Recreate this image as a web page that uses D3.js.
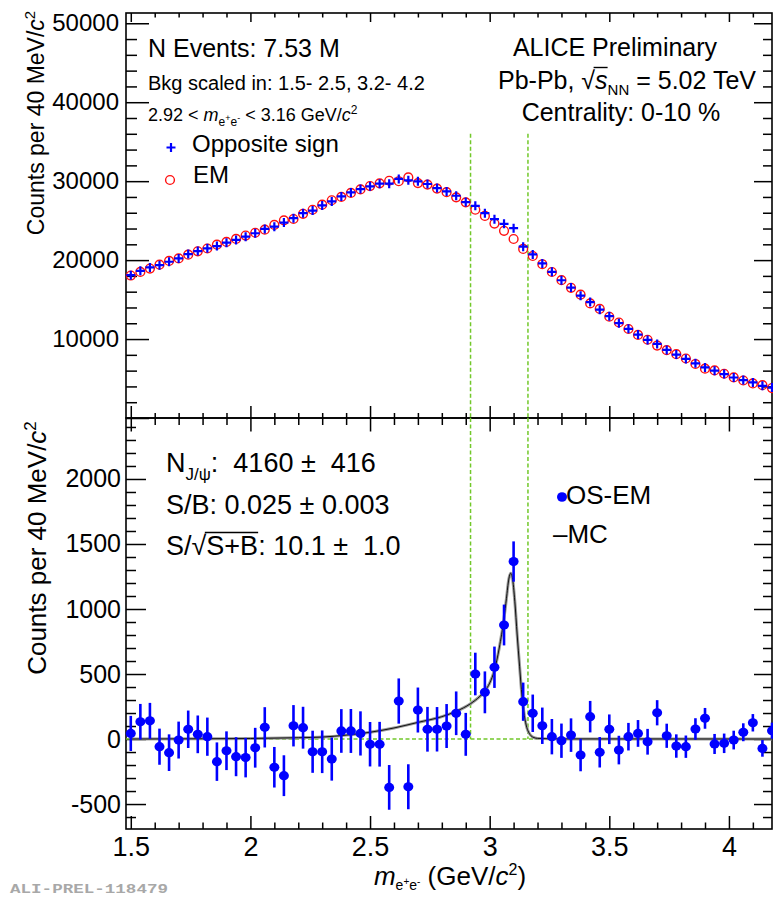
<!DOCTYPE html>
<html><head><meta charset="utf-8">
<script src="https://cdn.jsdelivr.net/npm/d3@7"></script>
<style>
body{margin:0;background:#fff}
svg{display:block}
text{font-family:"Liberation Sans",Arial,Helvetica,sans-serif;fill:#000;white-space:pre}
</style>
</head><body>
<svg id="c" width="773" height="897"></svg>
<script>
// ---------------- DATA ----------------
const massBins = [1.50,1.54,1.58,1.62,1.66,1.70,1.74,1.78,1.82,1.86,1.90,1.94,1.98,2.02,2.06,2.10,2.14,2.18,2.22,2.26,
  2.30,2.34,2.38,2.42,2.46,2.50,2.54,2.58,2.62,2.66,2.70,2.74,2.78,2.82,2.86,2.90,2.94,2.98,3.02,3.06,
  3.10,3.14,3.18,3.22,3.26,3.30,3.34,3.38,3.42,3.46,3.50,3.54,3.58,3.62,3.66,3.70,3.74,3.78,3.82,3.86,
  3.90,3.94,3.98,4.02,4.06,4.10,4.14,4.18];
const oppositeSign = [18090,18640,19070,19360,19790,20210,20760,21150,21490,21780,
  22210,22550,22970,23400,23950,24240,24750,25310,25950,26280,
  26920,27430,28070,28570,29000,29340,29680,29680,30280,30100,
  29980,29640,29130,28700,28150,27350,26880,25950,25180,24590,
  24040,21700,20720,19580,18510,17450,16520,15500,14690,13720,
  12900,12010,11290,10570,9890,9380,8620,8030,7480,6920,
  6410,5990,5570,5130,4800,4500,4080,3860];
const eventMixing = [18047,18507,18930,19419,19895,20218,20685,21114,21472,21954,
  22300,22686,23113,23467,23860,24457,25032,25208,25863,26378,
  27018,27584,28008,28508,28957,29380,29720,30052,29988,30467,
  29757,29565,29055,28600,27952,27314,26380,25591,24628,23713,
  22675,21413,20522,19478,18492,17463,16490,15623,14518,13822,
  12825,12095,11272,10527,9911,9178,8595,8084,7539,6843,
  6251,6028,5603,5138,4748,4375,4152,3796];
const osMinusEm = [43,133,140,-59,-105,-8,75,36,18,-174,
  -90,-136,-143,-67,90,-217,-282,102,87,-98,
  -98,-154,62,62,43,-40,-40,-372,292,-367,
  223,75,75,100,198,36,500,359,552,877,
  1365,287,198,102,18,-13,30,-123,172,-102,
  75,-85,18,43,-21,202,25,-54,-59,77,
  159,-38,-33,-8,52,125,-72,64];
const osMinusEmErr = [135,137,138,139,141,142,144,145,147,148,
  149,150,152,153,155,156,157,159,161,162,
  164,166,168,169,170,171,172,172,174,173,
  173,172,171,169,168,165,164,161,159,157,
  155,147,144,140,136,132,129,125,121,117,
  114,110,106,103,99,97,93,90,86,83,
  80,77,75,72,69,67,64,62];
const mcMass = [1.50,1.80,2.00,2.20,2.30,2.40,2.50,2.60,2.70,2.80,2.86,2.92,2.96,2.98,3.00,3.02,3.04,3.06,3.07,3.08,3.088,3.095,3.105,3.115,3.125,3.135,3.145,3.155,3.165,3.18,3.20,3.30,4.18];
const mcCounts = [0,2,4,10,15,30,52,85,128,172,213,272,330,370,430,530,700,930,1080,1230,1275,1240,1060,800,560,330,180,90,45,15,5,1,0];
const massWindow = [2.92, 3.16];
const xMajorTicks = [1.5,2.0,2.5,3.0,3.5,4.0];
const xMinorTicks = [1.6,1.7,1.8,1.9,2.1,2.2,2.3,2.4,2.6,2.7,2.8,2.9,3.1,3.2,3.3,3.4,3.6,3.7,3.8,3.9,4.1];
const topMajorTicks = [0,10000,20000,30000,40000,50000];
const topMinorTicks = [2000,4000,6000,8000,12000,14000,16000,18000,22000,24000,26000,28000,32000,34000,36000,38000,42000,44000,46000,48000];
const botMajorTicks = [-500,0,500,1000,1500,2000];
const botMinorTicks = [-600,-400,-300,-200,-100,100,200,300,400,600,700,800,900,1100,1200,1300,1400,1600,1700,1800,1900,2100,2200,2300,2400];

// ---------------- LAYOUT ----------------
const XL=126, XR=772, YT=13, YM=418, YB=829;
const svg = d3.select('#c');
const x = d3.scaleLinear().domain([1.48,4.18]).range([XL,XR]);
const yTop = d3.scaleLinear().domain([0,51300]).range([YM,YT]);
const yBot = d3.scaleLinear().domain([-692,2469]).range([YB,YM]);
const GREEN = '#72c82a', BLUE = '#0000ff', RED = '#ff1010';

function styleAxis(g){
  g.attr('font-size',null).attr('font-family',null);
  g.select('.domain').remove();
  g.selectAll('line').attr('stroke','#000').attr('stroke-width',1.5);
  return g;
}
function addAxis(axis, tx, ty, labelSize){
  const g = svg.append('g').attr('transform',`translate(${tx},${ty})`).call(axis);
  styleAxis(g);
  if(labelSize) g.selectAll('text').attr('font-size',labelSize); else g.selectAll('text').remove();
  return g;
}
// frames
svg.append('rect').attr('x',XL).attr('y',YT).attr('width',XR-XL).attr('height',YM-YT).attr('fill','none').attr('stroke','#000').attr('stroke-width',1.6);
svg.append('rect').attr('x',XL).attr('y',YM).attr('width',XR-XL).attr('height',YB-YM).attr('fill','none').attr('stroke','#000').attr('stroke-width',1.6);

// top panel y axes
addAxis(d3.axisLeft(yTop).tickValues(topMajorTicks).tickSize(-23).tickPadding(7).tickFormat(d=>d===0?'':d), XL,0,24);
addAxis(d3.axisLeft(yTop).tickValues(topMinorTicks).tickSize(-11).tickFormat(''), XL,0);
addAxis(d3.axisRight(yTop).tickValues(topMajorTicks).tickSize(-18).tickFormat(''), XR,0);
addAxis(d3.axisRight(yTop).tickValues(topMinorTicks).tickSize(-9).tickFormat(''), XR,0);
// bottom panel y axes
addAxis(d3.axisLeft(yBot).tickValues(botMajorTicks).tickSize(-20).tickPadding(5).tickFormat(d=>d<0?'-'+(-d):d), XL,0,25);
addAxis(d3.axisLeft(yBot).tickValues(botMinorTicks).tickSize(-10).tickFormat(''), XL,0);
addAxis(d3.axisRight(yBot).tickValues(botMajorTicks).tickSize(-18).tickFormat(''), XR,0);
addAxis(d3.axisRight(yBot).tickValues(botMinorTicks).tickSize(-9).tickFormat(''), XR,0);
// x axes
addAxis(d3.axisBottom(x).tickValues(xMajorTicks).tickSize(-13).tickPadding(8).tickFormat(d3.format('')), 0,YB,27);
addAxis(d3.axisBottom(x).tickValues(xMinorTicks).tickSize(-6.5).tickFormat(''), 0,YB);
addAxis(d3.axisTop(x).tickValues(xMajorTicks).tickSize(-9).tickFormat(''), 0,YT);
addAxis(d3.axisTop(x).tickValues(xMinorTicks).tickSize(-4.5).tickFormat(''), 0,YT);
addAxis(d3.axisBottom(x).tickValues(xMajorTicks).tickSize(-12).tickFormat(''), 0,YM);
addAxis(d3.axisBottom(x).tickValues(xMinorTicks).tickSize(-5).tickFormat(''), 0,YM);
addAxis(d3.axisTop(x).tickValues(xMajorTicks).tickSize(-13.5).tickFormat(''), 0,YM);
addAxis(d3.axisTop(x).tickValues(xMinorTicks).tickSize(-7).tickFormat(''), 0,YM);

// green reference lines
const gl = svg.append('g').attr('stroke',GREEN).attr('stroke-width',1.5).attr('stroke-dasharray','4,2.5').attr('fill','none');
massWindow.forEach(m=>{
  gl.append('line').attr('x1',x(m)).attr('x2',x(m)).attr('y1',yTop(36000)).attr('y2',yTop(0));
  gl.append('line').attr('x1',x(m)).attr('x2',x(m)).attr('y1',yBot(2469)).attr('y2',yBot(0));
});
gl.append('line').attr('x1',XL).attr('x2',XR).attr('y1',yBot(0)).attr('y2',yBot(0));

// top panel data
const topG = svg.append('g');
topG.selectAll('circle.em').data(massBins).join('circle').attr('class','em')
  .attr('cx',d=>x(d)).attr('cy',(d,i)=>yTop(eventMixing[i])).attr('r',4.4)
  .attr('fill','none').attr('stroke',RED).attr('stroke-width',1.4);
topG.selectAll('path.os').data(massBins).join('path').attr('class','os')
  .attr('d',(d,i)=>`M${x(d)-4.5},${yTop(oppositeSign[i])}h9M${x(d)},${yTop(oppositeSign[i])-4.5}v9`)
  .attr('stroke',BLUE).attr('stroke-width',2.2).attr('fill','none');

// bottom panel data
const botG = svg.append('g');
const mcLine = d3.line().x(d=>x(d[0])).y(d=>yBot(d[1])).curve(d3.curveMonotoneX);
const mcData = mcMass.map((m,i)=>[m,mcCounts[i]]);
botG.append('path').attr('d',mcLine(mcData)).attr('fill','none').attr('stroke','#9a9a9a').attr('stroke-width',3);
botG.append('path').attr('d',mcLine(mcData)).attr('fill','none').attr('stroke','#111').attr('stroke-width',1);
botG.selectAll('line.err').data(massBins).join('line').attr('class','err')
  .attr('x1',d=>x(d)).attr('x2',d=>x(d))
  .attr('y1',(d,i)=>yBot(osMinusEm[i]-osMinusEmErr[i])).attr('y2',(d,i)=>yBot(osMinusEm[i]+osMinusEmErr[i]))
  .attr('stroke',BLUE).attr('stroke-width',2.6);
botG.selectAll('ellipse.pt').data(massBins).join('ellipse').attr('class','pt')
  .attr('cx',d=>x(d)).attr('cy',(d,i)=>yBot(osMinusEm[i])).attr('rx',5).attr('ry',4.6).attr('fill',BLUE);

// ---------------- TEXT ----------------
function rich(parent, xx, yy, parts, size, anchor, transform){
  const t = parent.append('text').attr('font-size',size).attr('text-anchor',anchor||'start');
  if(transform) t.attr('transform',transform); else t.attr('x',xx).attr('y',yy);
  t.attr('xml:space','preserve');
  parts.forEach(p=>{
    const ts = t.append('tspan').text(p.t);
    if(p.s) ts.attr('font-size',p.s);
    if(p.dy) ts.attr('dy',p.dy);
    if(p.it) ts.attr('font-style','italic');
  });
  return t;
}
const tg = svg.append('g');
rich(tg,148,56.5,[{t:'N Events: 7.53 M'}],25);
rich(tg,148,90,[{t:'Bkg scaled in: 1.5- 2.5, 3.2- 4.2'}],20);
rich(tg,148,121,[{t:'2.92 < '},{t:'m',it:1},{t:'e',s:12,dy:5},{t:'+',s:9,dy:-5},{t:'e',s:12,dy:5},{t:'-',s:9,dy:-5},{t:' < 3.16 GeV/'},{t:'c',it:1},{t:'2',s:12,dy:-7}],18);
// top legend
tg.append('path').attr('d','M166.5,147.5h9M171,143v9').attr('stroke',BLUE).attr('stroke-width',2.2);
rich(tg,192,152,[{t:'Opposite sign'}],24);
tg.append('circle').attr('cx',170).attr('cy',180).attr('r',4.4).attr('fill','none').attr('stroke',RED).attr('stroke-width',1.4);
rich(tg,193,183,[{t:'EM'}],24);
// top right
rich(tg,615,56,[{t:'ALICE Preliminary'}],25,'middle');
const pb = rich(tg,627,89,[{t:'Pb-Pb, '},{t:'\u221A'},{t:'s',it:1},{t:'NN',s:15,dy:6},{t:' = 5.02 TeV',dy:-6}],25,'middle');
rich(tg,621,120.5,[{t:'Centrality: 0-10 %'}],25,'middle');
(function(){
  const n = pb.node();
  const i0 = 'Pb-Pb, '.length;
  const e0 = n.getExtentOfChar(i0), e1 = n.getExtentOfChar(i0+1);
  tg.append('line').attr('x1',e0.x+e0.width-1.5).attr('x2',e1.x+e1.width).attr('y1',e0.y+1.5).attr('y2',e0.y+1.5).attr('stroke','#000').attr('stroke-width',1.4);
})();
// bottom texts
rich(tg,166,472,[{t:'N'},{t:'J/\u03C8',s:17,dy:8},{t:':  4160 \u00B1  416',dy:-8}],27);
rich(tg,166,514,[{t:'S/B: 0.025 \u00B1 0.003'}],27);
const sq = rich(tg,166,555,[{t:'S/'},{t:'\u221A'},{t:'S+B'},{t:': 10.1 \u00B1  1.0'}],27);
(function(){
  const n = sq.node();
  const e0 = n.getExtentOfChar(2), e1 = n.getExtentOfChar(5);
  tg.append('line').attr('x1',e0.x+e0.width-1.5).attr('x2',e1.x+e1.width).attr('y1',e0.y+1.5).attr('y2',e0.y+1.5).attr('stroke','#000').attr('stroke-width',1.5);
})();
// bottom legend
tg.append('ellipse').attr('cx',562).attr('cy',497).attr('rx',5).attr('ry',4.8).attr('fill',BLUE);
rich(tg,566,503.5,[{t:'OS-EM'}],26);
rich(tg,553,543,[{t:'\u2013MC'}],26);
// axis titles
rich(tg,0,0,[{t:'Counts per 40 MeV/'},{t:'c',it:1},{t:'2',s:15,dy:-9}],23,'middle','translate(44,123) rotate(-90)');
rich(tg,0,0,[{t:'Counts per 40 MeV/'},{t:'c',it:1},{t:'2',s:17,dy:-10}],26,'middle','translate(46,548) rotate(-90)');
rich(tg,450,885,[{t:'m',it:1},{t:'e',s:14,dy:5},{t:'+',s:10,dy:-5},{t:'e',s:14,dy:5},{t:'-',s:10,dy:-5},{t:' (GeV/'},{t:'c',it:1},{t:'2',s:16,dy:-10},{t:')',dy:10}],26,'middle');
tg.append('text').attr('x',10).attr('y',893).attr('font-size',13).attr('font-weight','bold')
  .style('font-family','"Liberation Mono","DejaVu Sans Mono",monospace').style('fill','#a8a8a8')
  .attr('textLength',158).attr('lengthAdjust','spacingAndGlyphs').text('ALI-PREL-118479');
</script>
</body></html>
